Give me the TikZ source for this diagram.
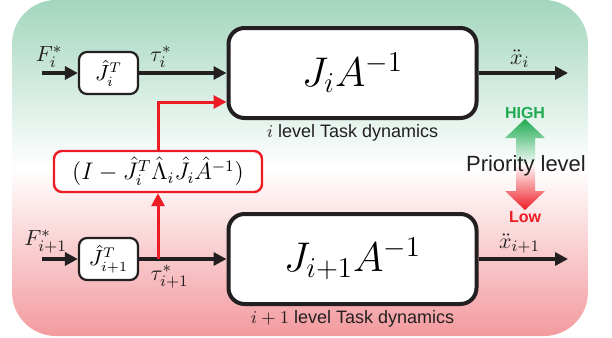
\documentclass[tikz,border=0pt]{standalone}
\usepackage{amsmath,amssymb}
\usepackage{fontspec}
\newfontfamily\labelfont{Liberation Sans}
\usetikzlibrary{positioning,arrows.meta,calc}
\definecolor{ink}{RGB}{35,31,32}
\definecolor{tred}{RGB}{237,28,36}
\definecolor{tgreen}{RGB}{30,170,80}
\definecolor{bggreen}{RGB}{163,214,190}
\definecolor{bgpink}{RGB}{243,154,158}
\tikzset{
  gain/.style={draw=ink, line width=1.1pt, rounded corners=4pt, fill=white,
    minimum width=29.5pt, minimum height=21pt, inner sep=1pt, font=\fontsize{10.5}{12}\selectfont},
  dyn/.style={draw=ink, line width=2pt, rounded corners=8pt, fill=white,
    minimum width=124pt, minimum height=45pt, font=\fontsize{21}{24}\selectfont},
  proj/.style={draw=tred, line width=1.2pt, rounded corners=4pt, fill=white,
    minimum width=104pt, minimum height=20.5pt, inner sep=1pt, font=\fontsize{12}{14}\selectfont},
  sig/.style={line width=1.7pt, draw=ink, -{Triangle[length=6.5pt,width=6.5pt]}},
  rsig/.style={line width=1.5pt, draw=tred, -{Triangle[length=6.5pt,width=6.5pt]}},
  lbl/.style={font=\fontsize{11}{13}\selectfont, text=ink, inner sep=2pt},
  caption/.style={font=\labelfont\fontsize{9}{11}\selectfont, text=ink, inner sep=1pt}
}
\begin{document}
\begin{tikzpicture}[x=0.5pt,y=-0.5pt]
\useasboundingbox (0,0) rectangle (612,338);
\shade[rounded corners=22pt, top color=bggreen, bottom color=bgpink, middle color=white]
  (12,0) rectangle (588,336);

% level i
\node[gain] (g1) at (108.5,73) {$\hat{J}_i^T$};
\node[dyn] (d1) at (352.5,73) {$J_iA^{-1}$};
\coordinate (in1) at (42,73);
\coordinate (out1) at (568,73);
\node[caption, below=1pt of d1] (c1) {$i$ level Task dynamics};

% level i+1
\node[gain] (g2) at (108.5,259) {$\hat{J}_{i+1}^T$};
\node[dyn] (d2) at (352.5,259) {$J_{i+1}A^{-1}$};
\coordinate (in2) at (42,259);
\coordinate (out2) at (568,259);
\node[caption, below=1pt of d2] (c2) {$i+1$ level Task dynamics};

% null space projection
\node[proj] (np) at (158,171.5) {$(I-\hat{J}_i^T\hat{\Lambda}_i\hat{J}_i\hat{A}^{-1})$};

\draw[sig] (in1) -- node[lbl, above, pos=0.2] {$F_i^*$} (g1);
\draw[sig] (g1) -- node[lbl, above, pos=0.25] {$\tau_i^*$} (d1);
\draw[sig] (d1) -- node[lbl, above, pos=0.46] {$\ddot{x}_i$} (out1);
\draw[sig] (in2) -- node[lbl, above, pos=0.1] {$F_{i+1}^*$} (g2);
\draw[sig] (g2) -- node[lbl, below, pos=0.35] {$\tau_{i+1}^*$} (d2);
\draw[sig] (d2) -- node[lbl, above, pos=0.46] {$\ddot{x}_{i+1}$} (out2);

\draw[rsig] (np.south |- g2.east) -- (np.south);
\draw[rsig] (np.north) |- ($(d1.west)+(0,29)$);

% priority arrow
\shade[top color=tgreen, bottom color=white]
  (525,119) -- (545,138) -- (535,138) -- (535,166) -- (516,166) -- (516,138) -- (505,138) -- cycle;
\shade[top color=white, bottom color=tred]
  (516,164) -- (535,164) -- (535,191) -- (545,191) -- (525,210) -- (505,191) -- (516,191) -- cycle;
\node[font=\labelfont\bfseries\fontsize{8}{10}\selectfont, text=tgreen, inner sep=0pt] (hi) at (525,113) {HIGH};
\node[font=\labelfont\bfseries\fontsize{8}{10}\selectfont, text=tred, inner sep=0pt] (lo) at (525,217) {Low};
\node[font=\labelfont\fontsize{11}{13}\selectfont, text=ink, inner sep=0pt] (pl) at (526,166) {Priority level};
\end{tikzpicture}
\end{document}
